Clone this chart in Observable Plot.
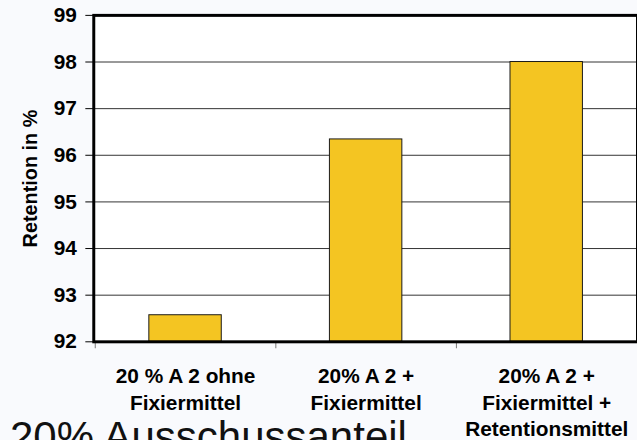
<!DOCTYPE html>
<html>
<head>
<meta charset="utf-8">
<script src="https://cdn.jsdelivr.net/npm/d3@7"></script>
<script src="https://cdn.jsdelivr.net/npm/@observablehq/plot@0.6"></script>
<style>
  html, body { margin: 0; padding: 0; background: #f9fafd; overflow: hidden; width: 637px; height: 440px; }
  #wrap { position: relative; width: 637px; height: 440px; overflow: hidden; }
  #chart svg { display: block; }
  #caption { position: absolute; left: 10px; top: 416px; font-family: "Liberation Sans", Arial, sans-serif; font-size: 42px; line-height: 42px; color: #111; white-space: nowrap; }
</style>
</head>
<body>
<div id="wrap">
  <div id="chart"></div>
  <div id="caption">20% Ausschussanteil</div>
</div>
<script>
const categories = [
  "20 % A 2 ohne\nFixiermittel",
  "20% A 2 +\nFixiermittel",
  "20% A 2 +\nFixiermittel +\nRetentionsmittel"
];
const values = [92.57, 96.34, 98.0];
const yTicks = [92, 93, 94, 95, 96, 97, 98, 99];
const yLabel = "Retention in %";

const data = categories.map((c, i) => ({cat: c, value: values[i]}));

const chart = Plot.plot({
  width: 642,
  height: 440,
  marginLeft: 94,
  marginRight: 0,
  marginTop: 15,
  marginBottom: 96,
  style: {fontFamily: "'Liberation Sans', Arial, sans-serif", background: "transparent", color: "#000"},
  x: {domain: categories, paddingInner: 0.6, paddingOuter: 0.3, align: 0.5},
  y: {domain: [92, 99]},
  marks: [
    Plot.frame({fill: "white", stroke: null}),
    Plot.ruleY(yTicks, {stroke: "#333", strokeWidth: 1}),
    Plot.barY(data, {x: "cat", y1: 92, y2: "value", fill: "#F4C522", stroke: "#1a1a1a", strokeWidth: 1}),
    Plot.ruleX(categories, {x: d => d, y1: 92, y2: 92, insetBottom: -7, dx: -91, stroke: "#777", strokeWidth: 1}),
    Plot.frame({stroke: "#000", strokeWidth: 3}),
    Plot.axisY({
      ticks: yTicks, tickFormat: d => String(d), tickSize: 8, tickPadding: 9,
      fontSize: 21, fontWeight: "bold", stroke: "#000",
      label: yLabel, labelAnchor: "center", labelArrow: "none", labelOffset: 71
    }),
    Plot.axisX({
      tickSize: 0, tickPadding: 23, fontSize: 21, fontWeight: "bold", lineHeight: 1.26, label: null
    })
  ]
});
chart.querySelectorAll("text").forEach(t => {
  if (t.textContent === yLabel) { t.setAttribute("font-weight", "bold"); t.setAttribute("font-size", "20"); }
});
document.getElementById("chart").appendChild(chart);
</script>
</body>
</html>
